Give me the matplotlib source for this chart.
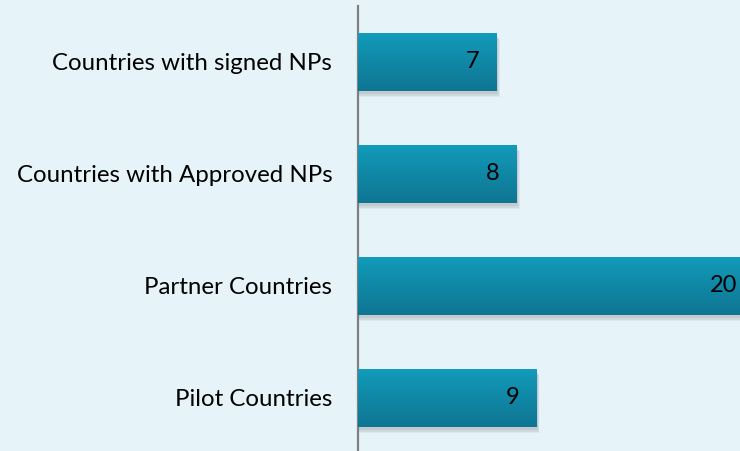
import matplotlib
matplotlib.use("Agg")
import matplotlib.pyplot as plt
import numpy as np
from matplotlib.colors import LinearSegmentedColormap

categories = ["Countries with signed NPs", "Countries with Approved NPs",
              "Partner Countries", "Pilot Countries"]
values = [7, 8, 20, 9]

bg = "#E6F3F9"
plt.rcParams['font.family'] = ['Lato', 'DejaVu Sans']

fig = plt.figure(figsize=(7.4, 4.51), dpi=100, facecolor=bg)
ax = fig.add_axes([358/740, -3/451, 382/740, 448/451])
ax.set_facecolor(bg)

y = np.arange(len(categories))
h = 0.52
cmap = LinearSegmentedColormap.from_list("g", ["#139BBB", "#0E7592"])
grad = np.linspace(0, 1, 64).reshape(-1, 1)

# shadows
for yi, v in zip(y, values):
    for k, a in enumerate([0.10, 0.08, 0.06]):
        ax.barh(yi + 0.03 + k*0.012, v + 0.08 + k*0.04, height=h, left=0,
                color="#404040", alpha=a, zorder=1)

bars = ax.barh(y, values, height=h, color="#118AA8", zorder=2)
for b in bars:
    x0, y0 = b.get_x(), b.get_y()
    w, hh = b.get_width(), b.get_height()
    im = ax.imshow(grad, extent=[x0, x0 + w, y0 + hh, y0], aspect='auto',
                   cmap=cmap, zorder=3, interpolation='bilinear')
    im.set_clip_path(b)

for yi, v in zip(y, values):
    ax.text(v - 0.85, yi, str(v), ha='right', va='center', fontsize=17,
            color='black', zorder=4, clip_on=False)

ax.set_xlim(0, 19.3)
ax.set_ylim(3.5, -0.5)
ax.set_yticks(y)
ax.set_yticklabels(categories, fontsize=17.3)
ax.tick_params(axis='y', length=0, pad=18.5)
ax.set_xticks([])
for s in ['top', 'right', 'bottom']:
    ax.spines[s].set_visible(False)
ax.spines['left'].set_color('#808080')
ax.spines['left'].set_linewidth(1.6)
ax.spines['left'].set_bounds(-0.5, 3.5)

fig.savefig("out.png", dpi=100, facecolor=bg)
